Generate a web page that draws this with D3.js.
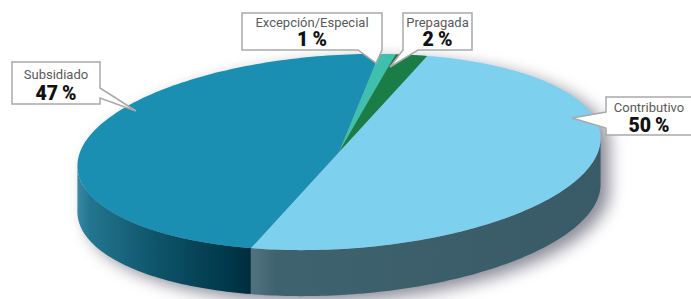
<!DOCTYPE html>
<html>
<head>
<meta charset="utf-8">
<script src="https://cdn.jsdelivr.net/npm/d3@7"></script>
<style>
  html, body { margin: 0; padding: 0; background: #fff; }
  svg { display: block; }
  .cat { font-family: Roboto, "Noto Sans", sans-serif; font-size: 13px; fill: #5a5a5a; }
  .val { font-family: Roboto, "Noto Sans", sans-serif; font-size: 19.5px; font-weight: 900; fill: #111; }
</style>
</head>
<body>
<div id="chart"></div>
<script>
// data
const labels = ['Contributivo', 'Subsidiado', 'Excepción/Especial', 'Prepagada'];
const values = [50, 47, 1, 2];
const topColors = ['#7dd0ee', '#1a8fb1', '#3fc0ae', '#1a7d45'];

const width = 691, height = 299;
const CX = 339, CY = 152, RX = 262, RY = 97, DEPTH = 46;
const ROT = -3.5 * Math.PI / 180;
const START = 21 * Math.PI / 180;

// callout layout (box + pointer), keyed by slice index
const callouts = [
  { x: 606, y: 97, w: 86, h: 38, side: 'left', b0: 112, b1: 128, tip: [572, 118], ly: 15, ny: 35 },
  { x: 12, y: 62, w: 88, h: 42, side: 'right', b0: 88, b1: 98, tip: [136, 111], ly: 17, ny: 38 },
  { x: 242, y: 13, w: 140, h: 37, side: 'bottom', b0: 358, b1: 382, tip: [376, 63], ly: 14, ny: 33 },
  { x: 403, y: 13, w: 69, h: 37, side: 'bottom', b0: 403, b1: 418, tip: [390, 67], ly: 14, ny: 33 }
];

const svg = d3.select('#chart').append('svg')
  .attr('width', width)
  .attr('height', height);

const defs = svg.append('defs');
const blur = defs.append('filter').attr('id', 'shadow')
  .attr('x', '-20%').attr('y', '-20%').attr('width', '140%').attr('height', '160%');
blur.append('feGaussianBlur').attr('stdDeviation', 8);

const gSub = defs.append('linearGradient').attr('id', 'sideSub')
  .attr('gradientUnits', 'userSpaceOnUse')
  .attr('x1', 76).attr('x2', 256).attr('y1', 0).attr('y2', 0);
[[0, '#3a8ba5'], [0.08, '#23758f'], [0.45, '#0e5469'], [0.85, '#01374a'], [1, '#002a3a']]
  .forEach(s => gSub.append('stop').attr('offset', s[0]).attr('stop-color', s[1]));

const gCon = defs.append('linearGradient').attr('id', 'sideCon')
  .attr('gradientUnits', 'userSpaceOnUse')
  .attr('x1', 255).attr('x2', 601).attr('y1', 0).attr('y2', 0);
[[0, '#4f717d'], [0.06, '#3e626e'], [1, '#385b67']]
  .forEach(s => gCon.append('stop').attr('offset', s[0]).attr('stop-color', s[1]));
const sideFills = ['url(#sideCon)', 'url(#sideSub)', '#1d7f74', '#0f5a30'];

// point on the (tilted) ellipse for a pie angle
const cosR = Math.cos(ROT), sinR = Math.sin(ROT);
function pt(a, dy) {
  const x = RX * Math.sin(a), y = -RY * Math.cos(a);
  return [CX + x * cosR - y * sinR, CY + x * sinR + y * cosR + (dy || 0)];
}
function arcPts(a0, a1, dy) {
  const n = Math.max(2, Math.ceil(Math.abs(a1 - a0) / 0.02));
  return d3.range(n + 1).map(i => pt(a0 + (a1 - a0) * i / n, dy));
}
const line = d3.line().curve(d3.curveLinear);

// visible front range (between the two vertical tangents)
const V0 = Math.atan2(RX * cosR, RY * sinR);
const V1 = V0 + Math.PI;

const arcs = d3.pie().sort(null).value(d => d)
  .startAngle(START).endAngle(START + 2 * Math.PI)(values);

// shadow
const outline = arcPts(V0, V1, DEPTH).concat(arcPts(V1, V0 + 2 * Math.PI, 0));
svg.append('path')
  .attr('d', line(outline) + 'Z')
  .attr('transform', 'translate(9,6)')
  .attr('fill', '#5c5c6e')
  .attr('opacity', 0.7)
  .attr('filter', 'url(#shadow)');

// side walls
svg.append('g').selectAll('path')
  .data(arcs.filter(d => Math.min(d.endAngle, V1) > Math.max(d.startAngle, V0)))
  .enter().append('path')
    .attr('fill', d => sideFills[d.index])
    .attr('d', d => {
      const a0 = Math.max(d.startAngle, V0), a1 = Math.min(d.endAngle, V1);
      return line(arcPts(a0, a1, 0).concat(arcPts(a1, a0, DEPTH))) + 'Z';
    });

// top faces
svg.append('g').selectAll('path')
  .data(arcs)
  .enter().append('path')
    .attr('fill', d => topColors[d.index])
    .attr('d', d => line([[CX, CY]].concat(arcPts(d.startAngle, d.endAngle, 0))) + 'Z');

// callouts
function calloutPath(c) {
  const x0 = c.x, y0 = c.y, x1 = c.x + c.w, y1 = c.y + c.h;
  let p = [[x0, y0], [x1, y0]];
  if (c.side === 'right') p.push([x1, c.b0], c.tip, [x1, c.b1]);
  p.push([x1, y1]);
  if (c.side === 'bottom') p.push([c.b1, y1], c.tip, [c.b0, y1]);
  p.push([x0, y1]);
  if (c.side === 'left') p.push([x0, c.b1], c.tip, [x0, c.b0]);
  return line(p) + 'Z';
}

const notes = svg.append('g').selectAll('g')
  .data(arcs)
  .enter().append('g');

notes.append('path')
  .attr('d', d => calloutPath(callouts[d.index]))
  .attr('fill', '#fff')
  .attr('stroke', '#a9a9a9')
  .attr('stroke-width', 1.5)
  .attr('stroke-linejoin', 'miter');

notes.append('text')
  .attr('class', 'cat')
  .attr('text-anchor', 'middle')
  .attr('x', d => callouts[d.index].x + callouts[d.index].w / 2)
  .attr('y', d => callouts[d.index].y + callouts[d.index].ly)
  .text(d => labels[d.index]);

notes.append('text')
  .attr('class', 'val')
  .attr('text-anchor', 'middle')
  .attr('x', d => callouts[d.index].x + callouts[d.index].w / 2)
  .attr('y', d => callouts[d.index].y + callouts[d.index].ny)
  .text(d => d.data + '\u2009%');
</script>
</body>
</html>
